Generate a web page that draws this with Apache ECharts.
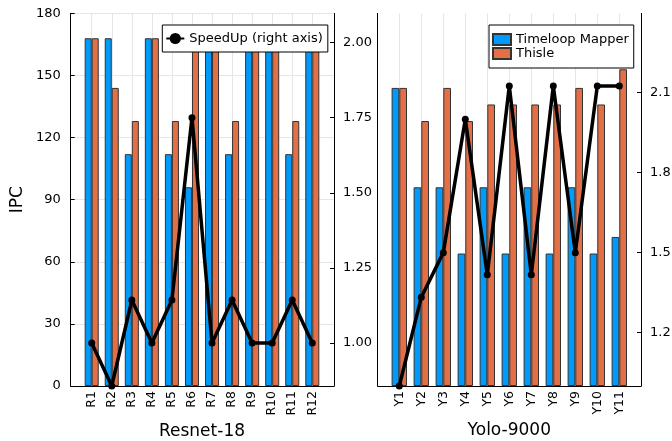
<!DOCTYPE html>
<html><head><meta charset="utf-8">
<script src="https://cdn.jsdelivr.net/npm/echarts@6/dist/echarts.min.js"></script>
<style>html,body{margin:0;padding:0;background:#fff}#c{width:672px;height:441px}</style>
</head><body><div id="c"></div>
<script>
const resnetCats = ['R1','R2','R3','R4','R5','R6','R7','R8','R9','R10','R11','R12'];
const resnetTimeloop = [168,168,112,168,112,96,168,112,168,168,112,168];
const resnetThisle = [168,144,128,168,128,168,168,128,168,168,128,168];
const resnetSpeedup = [1.0,0.857,1.143,1.0,1.143,1.75,1.0,1.143,1.0,1.0,1.143,1.0];
const yoloCats = ['Y1','Y2','Y3','Y4','Y5','Y6','Y7','Y8','Y9','Y10','Y11'];
const yoloTimeloop = [144,96,96,64,96,64,96,64,96,64,72];
const yoloThisle = [144,128,144,128,136,136,136,136,144,136,153];
const yoloSpeedup = [1.0,1.333,1.5,2.0,1.417,2.125,1.417,2.125,1.5,2.125,2.125];
const resnetSpeedTicks = [1.00,1.25,1.50,1.75,2.00];
const yoloSpeedTicks = [1.2,1.5,1.8,2.1];

const BLUE = '#009AFA', ORANGE = '#E36F47', GRID = '#e6e6e6';
const FONT = 'DejaVu Sans';
const chart = echarts.init(document.getElementById('c'));

function outerX(g){return {type:'value',gridIndex:g,min:0,max:1,axisLine:{show:true,onZero:false,lineStyle:{color:'#000',width:1}},axisTick:{show:false},axisLabel:{show:false},splitLine:{show:false}};}
function innerX(g,cats,name){return {type:'category',gridIndex:g,data:cats,boundaryGap:false,
  axisLine:{show:false},axisTick:{show:false},
  axisLabel:{rotate:90,interval:0,fontSize:12.5,margin:5,color:'#000',fontFamily:FONT},
  splitLine:{show:true,interval:0,lineStyle:{color:GRID,width:1}},
  name:name,nameLocation:'middle',nameGap:34,nameTextStyle:{fontSize:17,color:'#000',fontFamily:FONT}};}
function hiddenY(g,min,max){return {type:'value',gridIndex:g,min:min,max:max,show:false};}
function speedAxis(g,min,max,ticks,dec){return {type:'value',gridIndex:g,position:'right',min:min,max:max,
  axisLine:{show:true,onZero:false,lineStyle:{color:'#000',width:1}},
  axisTick:{show:true,inside:true,length:4,customValues:ticks,lineStyle:{color:'#000'}},
  axisLabel:{customValues:ticks,formatter:v=>v.toFixed(dec),fontSize:13,margin:9,color:'#000',fontFamily:FONT},
  splitLine:{show:false}};}
function barSeries(name,xi,yi,data,color){return {type:'bar',name:name,xAxisIndex:xi,yAxisIndex:yi,data:data,
  barGap:'0%',barCategoryGap:'30%',clip:false,
  itemStyle:{color:color,borderColor:'#333',borderWidth:1},animation:false};}
function lineSeries(xi,yi,data){return {type:'line',name:'SpeedUp (right axis)',xAxisIndex:xi,yAxisIndex:yi,data:data,
  clip:false,z:5,symbol:'circle',symbolSize:7,showAllSymbol:true,
  lineStyle:{color:'#000',width:3.5},itemStyle:{color:'#000'},animation:false};}

chart.setOption({
  animation:false,
  textStyle:{fontFamily:FONT},
  grid:[
    {left:70.7,right:338,top:13.4,bottom:55,outerBoundsMode:'none'},
    {left:91.7,right:359.7,top:13.4,bottom:55,outerBoundsMode:'none'},
    {left:377.7,right:31,top:13.4,bottom:55,outerBoundsMode:'none'},
    {left:399.3,right:52.7,top:13.4,bottom:55,outerBoundsMode:'none'}
  ],
  xAxis:[outerX(0),innerX(1,resnetCats,'Resnet-18'),outerX(2),innerX(3,yoloCats,'Yolo-9000')],
  yAxis:[
    {type:'value',gridIndex:0,position:'left',min:0,max:180,interval:30,
     axisLine:{show:true,onZero:false,lineStyle:{color:'#000',width:1}},
     axisTick:{show:true,inside:true,length:4,lineStyle:{color:'#000'}},
     axisLabel:{fontSize:13,margin:10,color:'#000',fontFamily:FONT},
     splitLine:{show:true,lineStyle:{color:GRID,width:1}},
     name:'IPC',nameLocation:'middle',nameGap:45,nameTextStyle:{fontSize:17,color:'#000',fontFamily:FONT}},
    speedAxis(0,0.857,2.097,resnetSpeedTicks,2),
    hiddenY(1,0,180),
    hiddenY(1,0.857,2.097),
    {type:'value',gridIndex:2,position:'left',min:0,max:180,
     axisLine:{show:true,onZero:false,lineStyle:{color:'#000',width:1}},
     axisTick:{show:false},axisLabel:{show:false},splitLine:{show:false}},
    speedAxis(2,1.0,2.397,yoloSpeedTicks,1),
    hiddenY(3,0,180),
    hiddenY(3,1.0,2.397)
  ],
  legend:[
    {data:['SpeedUp (right axis)'],left:162.3,top:25,orient:'vertical',selectedMode:false,
     backgroundColor:'#fff',borderColor:'#000',borderWidth:1,borderRadius:0,padding:[7,5,7,3],
     itemWidth:18,itemHeight:14,itemGap:3,textStyle:{fontSize:13,color:'#000',fontFamily:FONT}},
    {data:['Timeloop Mapper','Thisle'],left:489,top:25,orient:'vertical',selectedMode:false,icon:'rect',
     backgroundColor:'#fff',borderColor:'#000',borderWidth:1,borderRadius:0,padding:[8,5,8,3],
     itemWidth:18,itemHeight:11,itemGap:1,textStyle:{fontSize:13,color:'#000',fontFamily:FONT}}
  ],
  series:[
    barSeries('Timeloop Mapper',1,2,resnetTimeloop,BLUE),
    barSeries('Thisle',1,2,resnetThisle,ORANGE),
    lineSeries(1,3,resnetSpeedup),
    barSeries('Timeloop Mapper',3,6,yoloTimeloop,BLUE),
    barSeries('Thisle',3,6,yoloThisle,ORANGE),
    lineSeries(3,7,yoloSpeedup)
  ]
});
</script></body></html>
